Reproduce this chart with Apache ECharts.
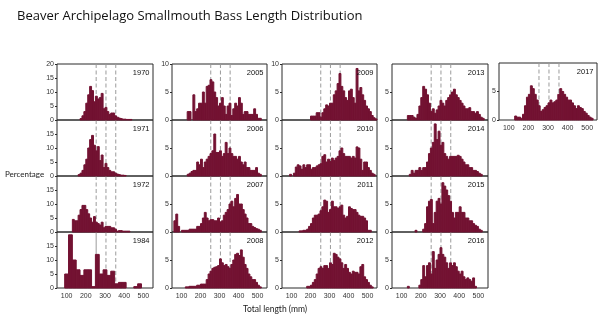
<!DOCTYPE html>
<html>
<head>
<meta charset="utf-8">
<script src="https://cdn.jsdelivr.net/npm/echarts@6/dist/echarts.min.js"></script>
<style>
  html, body { margin: 0; padding: 0; background: #ffffff; }
  #chart { width: 600px; height: 321px; }
</style>
</head>
<body>
<div id="chart"></div>
<script>
// Length bins (mm): lower edge of each 10-mm class
const binStarts = [
   50,  60,  70,  80,  90, 100, 110, 120, 130, 140,
  150, 160, 170, 180, 190, 200, 210, 220, 230, 240,
  250, 260, 270, 280, 290, 300, 310, 320, 330, 340,
  350, 360, 370, 380, 390, 400, 410, 420, 430, 440,
  450, 460, 470, 480, 490, 500, 510, 520, 530, 540
];
const binWidth = 10;

// 1984 sample was binned in 20-mm classes
const binStarts1984 = [90, 110, 130, 150, 170, 190, 210, 230, 250, 270, 290, 310, 330, 350, 370, 390, 410, 430, 450, 470];
const binWidth1984 = 20;

// Reference lengths (mm): 10, 12 and 14 inches
const cutLengths = [254, 305, 356];

const xTickLabels = [100, 200, 300, 400, 500];

// Percentage of catch in each length class
const pct1970 = [
  0, 0, 0, 0, 0, 0, 0, 0, 0, 0,
  0, 0, 0.5, 1.5, 3, 6, 9, 12, 10.5, 6.5,
  8.5, 7.5, 8, 9.5, 4, 4.5, 3, 2, 2.5, 2.5,
  1.5, 1, 0.7, 0.5, 0.3, 0.3, 0.2, 0.2, 0.2, 0,
  0, 0, 0, 0, 0, 0, 0, 0, 0, 0
];
const pct1971 = [
  0, 0, 0, 0, 0, 0, 0, 0, 0, 0,
  0, 0.5, 1, 2, 4, 6, 10, 13, 14.5, 11,
  9, 10.5, 5.5, 7.5, 3, 4.5, 3, 2, 1.5, 1.5,
  1, 0.7, 0.5, 0.3, 0.3, 0.2, 0, 0, 0, 0,
  0, 0, 0, 0, 0, 0, 0, 0, 0, 0
];
const pct1972 = [
  0, 0, 0, 0, 0, 0, 0, 0, 4.5, 4,
  4, 6, 8, 9.5, 9.5, 8, 6.5, 5, 3.5, 5.5,
  3.5, 3, 2.5, 3.5, 1.5, 2, 2, 2, 1.5, 1.5,
  1, 0.3, 0.5, 0.5, 0.3, 0.3, 0.3, 0.3, 0, 0,
  0, 0, 0, 0, 0, 0, 0, 0, 0, 0
];
const pct1984 = [5, 19, 10, 6.5, 4.5, 6.5, 6.5, 0.5, 12, 5, 6.5, 4.5, 6, 1.5, 2, 2, 0, 0, 0.5, 1.5];
const pct2005 = [
  0, 0, 0, 0, 0, 0, 0, 0, 1.5, 1.5,
  0, 4.5, 1.5, 2, 3, 3, 5, 3, 6, 6.2,
  7.2, 6.8, 5, 4, 2.5, 3, 4, 2.5, 1, 2.5,
  3, 0.8, 2, 3, 2.5, 4, 3, 1, 1.5, 1.5,
  1, 1, 1, 2, 1, 0.3, 0.3, 0, 0, 0
];
const pct2006 = [
  0, 0, 0, 0, 0, 0, 0, 0, 0.3, 0.5,
  0.8, 1, 1, 2.5, 2, 3, 1.5, 2.5, 3, 3.5,
  4, 4.5, 7.5, 4.2, 4.2, 4.5, 3.5, 4, 6, 4,
  5, 4, 3.5, 3.5, 3, 3.5, 2.5, 2, 2.5, 1.5,
  1.5, 1, 1, 1, 1.5, 0.5, 0.3, 0, 0, 0
];
const pct2007 = [
  0, 2, 3.2, 1, 0, 0.3, 0.3, 0.3, 0.3, 0.5,
  0.5, 0.5, 0.5, 1, 1, 1.5, 2.5, 3.5, 2.5, 2,
  2.2, 2.2, 2, 2, 2.5, 1.8, 2, 3, 3.5, 4,
  5, 5.5, 4.5, 6, 6.7, 5, 5, 4, 3.2, 2.5,
  1.5, 1.5, 1, 0.8, 0.6, 0.5, 0.3, 0, 0, 0
];
const pct2008 = [
  0, 0, 0, 0, 0, 0, 0, 0.2, 0.2, 0.3,
  0.3, 0.3, 0.3, 0.5, 0.5, 0.7, 0.7, 0.7, 1.5, 2.5,
  3, 3.5, 3.7, 3.8, 4, 5.2, 4.5, 4, 4.2, 3.8,
  3.5, 4.2, 5, 6, 6.2, 5.8, 6.8, 5.5, 4.2, 3.5,
  2.5, 2, 1.5, 1.5, 1, 0.5, 0.2, 0, 0, 0
];
const pct2009 = [
  0, 0, 0, 0, 0, 0, 0, 0, 0, 0,
  0, 0, 0, 0, 0, 0.7, 0.7, 0.7, 1.3, 1.3,
  0.5, 1.3, 2, 2.7, 2.5, 3, 3, 4.5, 5.2, 6.5,
  8.3, 6, 5.2, 4, 3.5, 5.2, 5.5, 4, 3, 9.2,
  5.2, 5.8, 4.5, 3.5, 2.5, 2, 1.5, 0.8, 0.4, 0.2
];
const pct2010 = [
  0, 0, 0, 0, 0.3, 0, 0.5, 1.6, 2, 1.8,
  1.2, 2, 1.5, 2, 2, 1.2, 1.5, 1.5, 1.8, 2,
  2.2, 3.5, 3.8, 2.5, 3, 2.6, 3.2, 2.8, 3.2, 3.5,
  4.5, 5, 4, 3.5, 3.5, 3.5, 3.2, 3.5, 3.2, 5.2,
  5, 3, 1, 2.5, 2.5, 1.5, 1, 0.5, 0.3, 0
];
const pct2011 = [
  0, 0, 0, 0, 0, 0, 0, 0, 0, 0.2,
  0.2, 0.3, 0.3, 0.5, 1, 1.5, 2.5, 3, 3, 3.2,
  3.8, 4.5, 5.7, 5.5, 3.5, 4, 5.5, 4.5, 4.5, 4.2,
  4.5, 4.8, 3, 2.5, 2.8, 4.5, 4.2, 4, 4, 3.5,
  3, 2.8, 2.8, 2.5, 2, 0.3, 0.3, 0, 0, 0
];
const pct2012 = [
  0, 0, 0, 0, 0, 0, 0, 0, 0, 0,
  0, 0, 0, 0.3, 0.3, 0.5, 1, 1.5, 2.5, 3.5,
  3.8, 3.5, 4, 4, 3.5, 4.5, 4.2, 6.2, 6, 5.5,
  5.2, 4.5, 3.5, 4.2, 3.5, 2.8, 2.5, 3, 2.8, 2.8,
  2.5, 3.8, 4.2, 2, 1.5, 1, 0.5, 0.2, 0, 0
];
const pct2013 = [
  0, 0, 0, 0, 0, 0, 0, 0, 0.8, 0.8,
  0.8, 0.5, 0.3, 1, 2.5, 4, 6, 5.5, 4.5, 3,
  1.5, 2, 1.2, 1.8, 2.5, 3.5, 3, 2.5, 3.5, 4,
  4.5, 5, 5.5, 4.5, 4, 3.5, 3, 2.5, 2, 2,
  2.2, 1.5, 1.5, 1.2, 1.5, 1, 0.5, 0.3, 0, 0
];
const pct2014 = [
  0, 0, 0, 0, 0, 0, 0, 0, 0, 0.3,
  1, 0.5, 1, 1, 1.5, 1, 1.5, 1.5, 2.5, 4,
  5, 6, 9.3, 6.5, 8, 5.5, 6, 4, 3.5, 3,
  3.5, 3.5, 3.5, 3.5, 3.7, 3.5, 3, 2.5, 2, 2,
  1.5, 1.5, 1, 1, 0.8, 0.5, 0.3, 0, 0, 0
];
const pct2015 = [
  0, 0, 0, 0, 0, 0, 0, 0, 0, 0,
  0, 0, 0.3, 0, 0, 0, 0.5, 1.5, 4.5, 5.5,
  5.8, 1.5, 3.5, 5.5, 6, 5, 8.8, 8.2, 7.5, 6.5,
  5.5, 3.5, 2.5, 3.5, 3.5, 4.5, 3.5, 3.5, 2.5, 2.5,
  2, 2, 1.5, 1.2, 1, 0.5, 0.3, 0, 0, 0
];
const pct2016 = [
  0, 0, 0, 0, 0, 0, 0, 0, 0.3, 0,
  0, 0, 0, 0, 0.5, 1.5, 4, 2, 4, 4.5,
  2.5, 6.5, 3.5, 5, 6, 7.2, 6, 5.5, 4.5, 3.5,
  4.5, 4, 4.5, 3.8, 3, 2.5, 3, 2, 1.5, 1.8,
  1.5, 1.2, 1.8, 0.3, 0, 0, 0, 0, 0, 0
];
const pct2017 = [
  0, 0, 0, 0, 0, 0, 0, 0, 0.7, 0.5,
  0.5, 0.3, 1, 2.5, 4, 4.5, 6, 5.5, 4.5, 3.5,
  2.5, 1.5, 1.8, 2.2, 2.5, 3, 3.5, 3, 3.2, 3.5,
  4.5, 5.5, 5, 4.5, 4, 3.5, 3.5, 3, 2.5, 2,
  2.5, 2.2, 2, 1.5, 1.2, 0.8, 0.5, 0.3, 0, 0
];

// Panel arrangement: column, row, and which series/bins feed each one
const panels = [
  { year: '1970', pct: pct1970, col: 0, row: 0 },
  { year: '1971', pct: pct1971, col: 0, row: 1 },
  { year: '1972', pct: pct1972, col: 0, row: 2 },
  { year: '1984', pct: pct1984, col: 0, row: 3, starts: binStarts1984, width: binWidth1984, solidFirstCut: true },
  { year: '2005', pct: pct2005, col: 1, row: 0 },
  { year: '2006', pct: pct2006, col: 1, row: 1 },
  { year: '2007', pct: pct2007, col: 1, row: 2 },
  { year: '2008', pct: pct2008, col: 1, row: 3 },
  { year: '2009', pct: pct2009, col: 2, row: 0 },
  { year: '2010', pct: pct2010, col: 2, row: 1 },
  { year: '2011', pct: pct2011, col: 2, row: 2 },
  { year: '2012', pct: pct2012, col: 2, row: 3 },
  { year: '2013', pct: pct2013, col: 3, row: 0 },
  { year: '2014', pct: pct2014, col: 3, row: 1 },
  { year: '2015', pct: pct2015, col: 3, row: 2 },
  { year: '2016', pct: pct2016, col: 3, row: 3 },
  { year: '2017', pct: pct2017, col: 4, row: 0 }
];

// Page layout
const colLeft  = [57, 172, 282, 392, 499];
const colWidth = [96, 95, 95, 96, 98];
const rowTop   = [64, 120, 176, 232];
const rowHeight = 56;
const lastRowOfCol = [3, 3, 3, 3, 0];
const colYMax = [20, 10, 10, 10, 10];
const showTopLabel = [true, true, true, false, false];

const barColor = '#731232';
const frameColor = '#2b2b2b';
const tickFont = 'Liberation Sans, Arial, sans-serif';

const chart = echarts.init(document.getElementById('chart'), null, { renderer: 'canvas' });

const grids = [], xAxes = [], yAxes = [], series = [], texts = [];

panels.forEach((p, i) => {
  const left = colLeft[p.col];
  const width = colWidth[p.col];
  const top = p.col === 4 ? 63 : rowTop[p.row];
  const height = p.col === 4 ? 57 : rowHeight;
  const yMax = colYMax[p.col];
  const isBottom = p.row === lastRowOfCol[p.col];
  const starts = p.starts || binStarts;
  const w = p.width || binWidth;

  grids.push({
    left: left, top: top, width: width, height: height,
    show: true, borderColor: frameColor, borderWidth: 1, backgroundColor: 'transparent'
  });

  xAxes.push({
    type: 'value', gridIndex: i, min: 50, max: 550, interval: 50,
    splitLine: { show: false },
    axisLine: { show: false },
    axisTick: { show: false },
    axisLabel: {
      show: isBottom, fontSize: 7, color: '#333', fontFamily: tickFont, margin: 5,
      showMinLabel: false, showMaxLabel: false,
      formatter: v => (xTickLabels.indexOf(v) >= 0 ? String(v) : '')
    }
  });

  yAxes.push({
    type: 'value', gridIndex: i, min: 0, max: yMax, interval: 5,
    splitLine: { show: false },
    axisLine: { show: false },
    axisTick: { show: true, length: 2, lineStyle: { color: frameColor } },
    axisLabel: {
      fontSize: 7, color: '#333', fontFamily: tickFont, margin: 3,
      showMaxLabel: p.row === 0 && showTopLabel[p.col]
    }
  });

  // reference-length lines drawn beneath the bars
  series.push({
    type: 'custom', xAxisIndex: i, yAxisIndex: i, silent: true, z: 1,
    data: cutLengths.map((v, k) => [v, k]),
    encode: { x: 0 },
    renderItem: (params, api) => {
      const x = api.coord([api.value(0), 0])[0];
      const cs = params.coordSys;
      const solid = p.solidFirstCut && api.value(1) === 0;
      return {
        type: 'line',
        shape: { x1: x, y1: cs.y, x2: x, y2: cs.y + cs.height },
        style: { stroke: '#9b9b9b', lineWidth: 1, lineDash: solid ? null : [4, 2.5] }
      };
    }
  });

  // histogram bars
  const barData = [];
  p.pct.forEach((v, k) => { if (v > 0) barData.push([starts[k], starts[k] + w, v]); });
  series.push({
    type: 'custom', xAxisIndex: i, yAxisIndex: i, silent: true, z: 2,
    data: barData,
    encode: { x: [0, 1], y: 2 },
    renderItem: (params, api) => {
      const a = api.coord([api.value(0), api.value(2)]);
      const b = api.coord([api.value(1), 0]);
      return {
        type: 'rect',
        shape: { x: a[0], y: a[1], width: b[0] - a[0], height: b[1] - a[1] },
        style: { fill: barColor, stroke: barColor, lineWidth: 1 }
      };
    }
  });

  texts.push({
    type: 'text', right: 600 - (left + width) + 3.5, top: top + 4.5, z: 10,
    style: { text: p.year, fill: '#111', fontSize: 7.5, fontFamily: tickFont }
  });
});

texts.push({
  type: 'text', left: 5, top: 170,
  style: { text: 'Percentage', fill: '#222', fontSize: 8, fontFamily: 'Lato, sans-serif' }
});
texts.push({
  type: 'text', left: 243, top: 305,
  style: { text: 'Total length (mm)', fill: '#222', fontSize: 8.5, fontFamily: 'Lato, sans-serif' }
});

chart.setOption({
  animation: false,
  backgroundColor: '#ffffff',
  title: {
    text: 'Beaver Archipelago Smallmouth Bass Length Distribution',
    left: 17, top: 10, padding: 0,
    textStyle: { fontSize: 13, fontWeight: 'normal', color: '#111', fontFamily: 'Open Sans, sans-serif' }
  },
  grid: grids,
  xAxis: xAxes,
  yAxis: yAxes,
  series: series,
  graphic: texts
});
</script>
</body>
</html>
